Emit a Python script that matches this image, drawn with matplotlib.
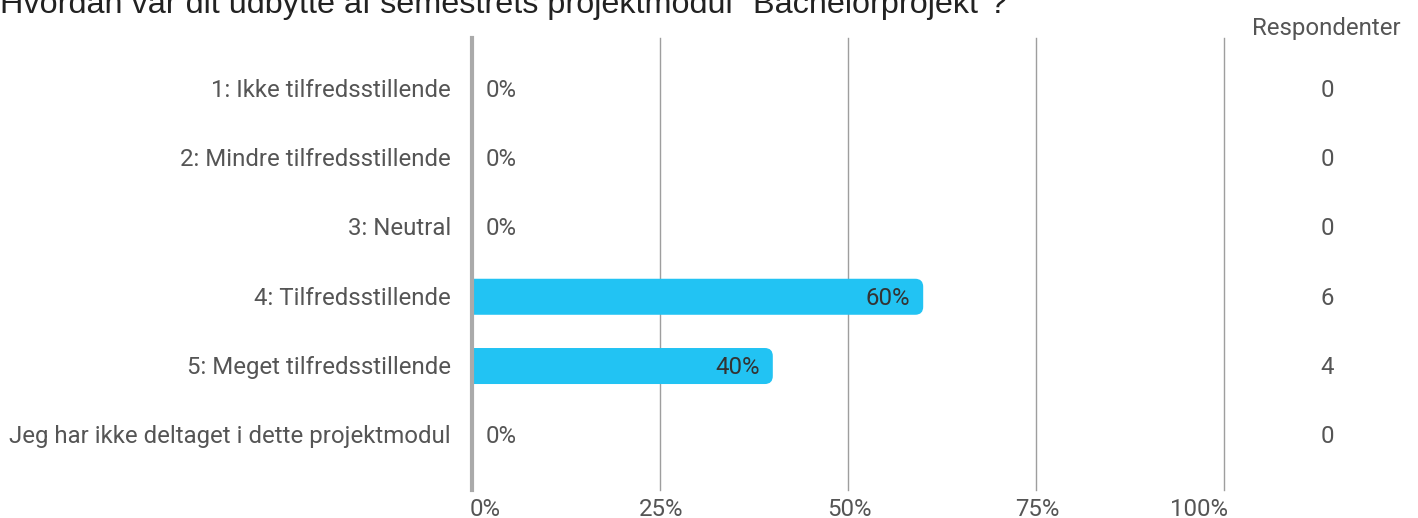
import matplotlib
matplotlib.use("Agg")
import matplotlib.pyplot as plt
from matplotlib.patches import FancyBboxPatch

title = "Hvordan var dit udbytte af semestrets projektmodul \"Bachelorprojekt\"?"
categories = ["1: Ikke tilfredsstillende", "2: Mindre tilfredsstillende", "3: Neutral",
              "4: Tilfredsstillende", "5: Meget tilfredsstillende",
              "Jeg har ikke deltaget i dette projektmodul"]
percents = [0, 0, 0, 60, 40, 0]
respondents = [0, 0, 0, 6, 4, 0]
xticks = [0, 25, 50, 75, 100]
xticklabels = ["0%", "25%", "50%", "75%", "100%"]
resp_header = "Respondenter"

W, H = 1418, 518
fig = plt.figure(figsize=(W / 100, H / 100), dpi=100)
ax_l, ax_r, ax_t, ax_b = 472, 1224, 38, 490
ax = fig.add_axes([ax_l / W, 1 - ax_b / H, (ax_r - ax_l) / W, (ax_b - ax_t) / H])

bar_color = "#22C3F3"
label_color = "#555555"
font = "Roboto"
fs = 17.3

ax.set_xlim(0, 100)
ax.set_ylim(5.79, -0.736)
for s in ax.spines.values():
    s.set_visible(False)
ax.set_xticks([])
ax.set_yticks([])

for x in xticks[1:]:
    ax.axvline(x, color="#9e9e9e", lw=1.0, zorder=1, clip_on=False)
ax.axvline(0, color="#aaaaaa", lw=3, zorder=4, clip_on=False)

bar_h = 0.52
px_x = 100 / (ax_r - ax_l)
px_y = (5.79 + 0.736) / (ax_b - ax_t)
ty = 1.5 * px_y  # small downward nudge for text centering
for i, (p, n) in enumerate(zip(percents, respondents)):
    if p > 0:
        pad = 8 * px_x
        patch = FancyBboxPatch((-5, i - bar_h / 2 + 8 * px_y), p + 5 - pad, bar_h - 16 * px_y,
                               boxstyle=f"round,pad={pad},rounding_size={pad}",
                               mutation_aspect=px_y / px_x,
                               fc=bar_color, ec="none", zorder=3, clip_on=True)
        ax.add_patch(patch)
        ax.text(p - 13 * px_x, i + ty, f"{p}%", ha="right", va="center", fontsize=fs,
                color="#333333", family=font, zorder=5)
    else:
        ax.text(14 * px_x, i + ty, f"{p}%", ha="left", va="center", fontsize=fs,
                color=label_color, family=font, zorder=5)
    ax.text(-21 * px_x, i + ty, categories[i], ha="right", va="center", fontsize=fs,
            color=label_color, family=font, clip_on=False)
    fig.text(1327 / W, 1 - (90.5 + i * 69.2) / H, str(n), ha="center", va="center",
             fontsize=fs, color=label_color, family=font)

for x, lab in zip(xticks, xticklabels):
    ha = "left" if x == 0 else ("right" if x == 100 else "center")
    dx = -2 * px_x if x == 0 else (4 * px_x if x == 100 else 1 * px_x)
    ax.text(x + dx, 5.79 + 19 * px_y, lab, ha=ha, va="center", fontsize=fs,
            color=label_color, family=font, clip_on=False)

fig.text(1326 / W, 1 - 28.5 / H, resp_header, ha="center", va="center", fontsize=fs,
         color=label_color, family=font)
fig.text(0, 1 - 13 / H, title, ha="left", va="baseline", fontsize=23.3,
         color="#222222", family="Liberation Sans")

fig.savefig("out.png", dpi=100)
